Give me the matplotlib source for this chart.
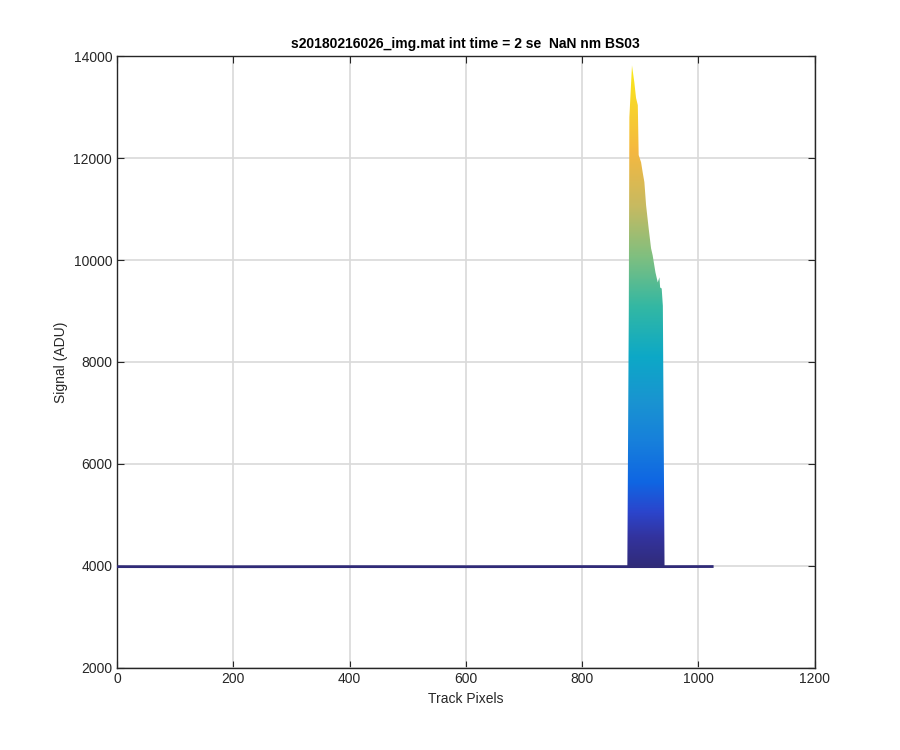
import numpy as np
import matplotlib
matplotlib.use("Agg")
import matplotlib.pyplot as plt
from matplotlib.colors import LinearSegmentedColormap
from matplotlib.patches import Polygon

plt.rcParams['font.family'] = ['Liberation Sans', 'DejaVu Sans']

# parula-like colormap, toned to look like the shaded surface in the original
cmap_pos = [0.0, 0.06, 0.11, 0.17, 0.25, 0.33, 0.42, 0.52, 0.62, 0.72, 0.83, 1.0]
cmap_rgb = [
    (0.19, 0.17, 0.47),
    (0.20, 0.20, 0.62),
    (0.17, 0.27, 0.80),
    (0.06, 0.40, 0.89),
    (0.09, 0.50, 0.86),
    (0.10, 0.58, 0.82),
    (0.05, 0.66, 0.78),
    (0.20, 0.72, 0.64),
    (0.50, 0.75, 0.50),
    (0.78, 0.73, 0.38),
    (0.96, 0.72, 0.25),
    (0.98, 0.92, 0.10),
]
parula = LinearSegmentedColormap.from_list('parula', list(zip(cmap_pos, cmap_rgb)))

# data
title = 's20180216026_img.mat int time = 2 se  NaN nm BS03'
baseline_x = [1, 200, 400, 600, 800, 878, 942, 1024]
baseline_y = [3980, 3978, 3980, 3979, 3981, 3980, 3980, 3982]

peak_x = [878, 880.5, 881.5, 886, 890, 893, 896, 897.5, 901.6, 904.4, 907.3,
          910.2, 914.7, 918.8, 921.6, 926.3, 930.3, 933.2, 934.4, 937.1, 939.1, 942]
peak_y = [3980, 9000, 12800, 13820, 13490, 13180, 13040, 12060, 11920, 11720, 11530,
          11080, 10620, 10230, 10090, 9760, 9560, 9660, 9460, 9440, 9100, 3980]

vmin, vmax = 3950, 13820

fig = plt.figure(figsize=(9, 7.5), dpi=100)
ax = fig.add_axes([0.13, 0.11, 0.775, 0.815])

# gradient fill of the peak, colour by signal value
grad = np.linspace(vmin, vmax, 256).reshape(-1, 1)
im = ax.imshow(grad, origin='lower', aspect='auto', cmap=parula,
               extent=[870, 950, vmin, vmax], vmin=vmin, vmax=vmax, zorder=3)
poly = Polygon(np.column_stack([peak_x, peak_y]), closed=True,
               facecolor='none', edgecolor='none')
ax.add_patch(poly)
im.set_clip_path(poly)

ax.plot(baseline_x, baseline_y, color=parula(0.0), lw=2, zorder=4)

ax.set_xlim(0, 1200)
ax.set_ylim(2000, 14000)
ax.set_xticks(np.arange(0, 1201, 200))
ax.set_yticks(np.arange(2000, 14001, 2000))
ax.grid(True, color='#d9d9d9', lw=1.2)
ax.set_axisbelow(True)
ax.tick_params(direction='in', top=True, right=True, labelsize=10,
               colors='#262626', length=5)
for s in ax.spines.values():
    s.set_color('#262626')
    s.set_linewidth(1.0)

ax.set_xlabel('Track Pixels', fontsize=10, color='#262626')
ax.set_ylabel('Signal (ADU)', fontsize=10, color='#262626')
ax.set_title(title, fontsize=10, fontweight='bold')

fig.savefig('out.png', dpi=100)
